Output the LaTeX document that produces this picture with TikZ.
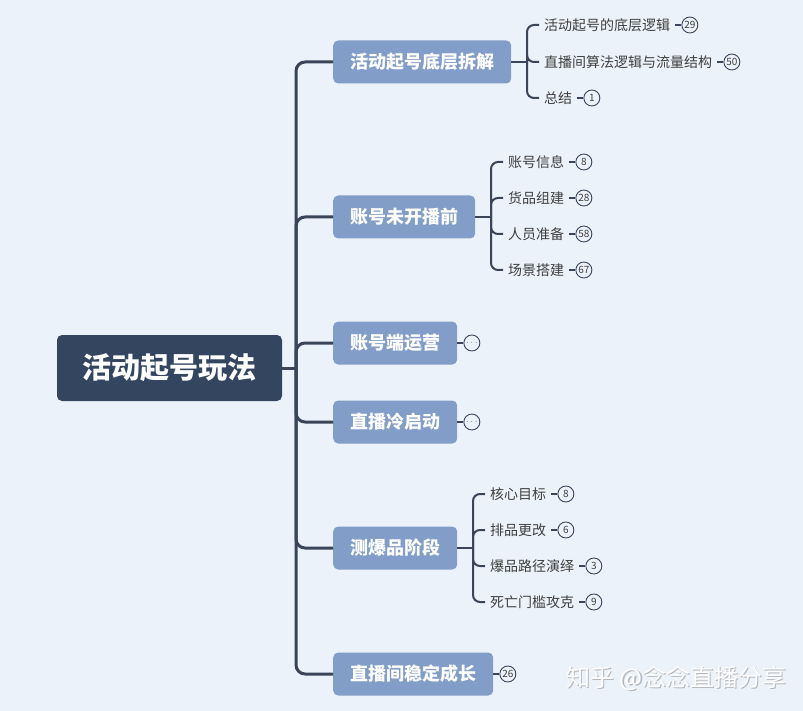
\documentclass[tikz,border=0pt]{standalone}
\usepackage{fontspec}
\setmainfont{Noto Sans CJK SC}
\usetikzlibrary{positioning}
\definecolor{bgblue}{HTML}{ECF2F9}
\definecolor{rootblue}{HTML}{344560}
\definecolor{topicblue}{HTML}{829DC7}
\definecolor{linegray}{HTML}{3A4559}
\definecolor{textgray}{HTML}{3F3F3F}
\definecolor{markgray}{HTML}{B4B8BE}

\begin{document}
\begin{tikzpicture}[x=1pt,y=-1pt,
  root/.style={fill=rootblue, text=white, rounded corners=5pt, minimum width=225pt, minimum height=66pt, inner sep=0pt, font=\fontsize{29}{29}\selectfont\bfseries},
  topic/.style={fill=topicblue, text=white, rounded corners=5pt, anchor=west, inner xsep=17pt, minimum height=43pt, font=\fontsize{18}{18}\selectfont\bfseries},
  leaf/.style={anchor=west, inner xsep=5pt, inner ysep=2pt, text=textgray, font=\fontsize{14}{14}\selectfont},
  badge/.style={draw=linegray, circle, line width=0.9pt, minimum size=16pt, inner sep=0pt, text=textgray, font=\fontsize{10}{10}\selectfont, right=6pt of #1},
  trunk/.style={draw=linegray, line width=3pt, rounded corners=9pt},
  twig/.style={draw=linegray, line width=2pt, rounded corners=7pt},
  tick/.style={draw=linegray, line width=1.5pt}]

    % Fondo y margenes
    \fill[bgblue] (0,0) rectangle (803,711);
    \useasboundingbox (0,0) rectangle (803,711);

    % Tema central
    \node[root] (R) at (169.5,368) {活动起号玩法};
    \coordinate (hub) at (296,368);

    % Ramas principales
    \node[topic] (T1) at (333,62)  {活动起号底层拆解};
    \node[topic] (T2) at (333,217) {账号未开播前};
    \node[topic] (T3) at (333,343) {账号端运营};
    \node[topic] (T4) at (333,422) {直播冷启动};
    \node[topic] (T5) at (333,548) {测爆品阶段};
    \node[topic] (T6) at (333,674) {直播间稳定成长};

    \draw[trunk] (R.east) -- (hub);
    \foreach \t in {T1,T2,T3,T4,T5,T6}
        \draw[trunk] (hub) |- (\t.west);

    % Subtemas de T1
    \coordinate (f1) at (527,62);
    \node[leaf] (A1) at (539,25) {活动起号的底层逻辑};
    \node[leaf] (A2) at (539,62) {直播间算法逻辑与流量结构};
    \node[leaf] (A3) at (539,98) {总结};
    \node[badge=A1] (nA1) {29};
    \node[badge=A2] (nA2) {50};
    \node[badge=A3] (nA3) {1};

    % Subtemas de T2
    \coordinate (f2) at (491,217);
    \node[leaf] (B1) at (503,162) {账号信息};
    \node[leaf] (B2) at (503,198) {货品组建};
    \node[leaf] (B3) at (503,234) {人员准备};
    \node[leaf] (B4) at (503,270) {场景搭建};
    \node[badge=B1] (nB1) {8};
    \node[badge=B2] (nB2) {28};
    \node[badge=B3] (nB3) {58};
    \node[badge=B4] (nB4) {67};

    % Ramas plegadas
    \node[badge=T3, text=gray] (nT3) {$\cdots$};
    \node[badge=T4, text=gray] (nT4) {$\cdots$};
    \node[badge=T6] (nT6) {26};

    % Subtemas de T5
    \coordinate (f5) at (473,548);
    \node[leaf] (C1) at (485,494) {核心目标};
    \node[leaf] (C2) at (485,530) {排品更改};
    \node[leaf] (C3) at (485,566) {爆品路径演绎};
    \node[leaf] (C4) at (485,602) {死亡门槛攻克};
    \node[badge=C1] (nC1) {8};
    \node[badge=C2] (nC2) {6};
    \node[badge=C3] (nC3) {3};
    \node[badge=C4] (nC4) {9};

    % Conectores de subtemas
    \draw[twig] (T1.east) -- (f1);
    \foreach \c in {A1,A2,A3}
        \draw[twig] (f1) |- (\c.west);
    \draw[twig] (T2.east) -- (f2);
    \foreach \c in {B1,B2,B3,B4}
        \draw[twig] (f2) |- (\c.west);
    \draw[twig] (T5.east) -- (f5);
    \foreach \c in {C1,C2,C3,C4}
        \draw[twig] (f5) |- (\c.west);

    % Marcas de conteo
    \foreach \c in {A1,A2,A3,B1,B2,B3,B4,C1,C2,C3,C4,T3,T4,T6}
        \draw[tick] (\c.east) -- (n\c.west);

    % Marca de agua
    \node[anchor=west, text=markgray, font=\fontsize{24}{24}\selectfont] at (564.2,679.2) {知乎 @念念直播分享};
    \node[anchor=west, text=white, font=\fontsize{24}{24}\selectfont] (mark) at (563,678) {知乎 @念念直播分享};
\end{tikzpicture}
\end{document}
